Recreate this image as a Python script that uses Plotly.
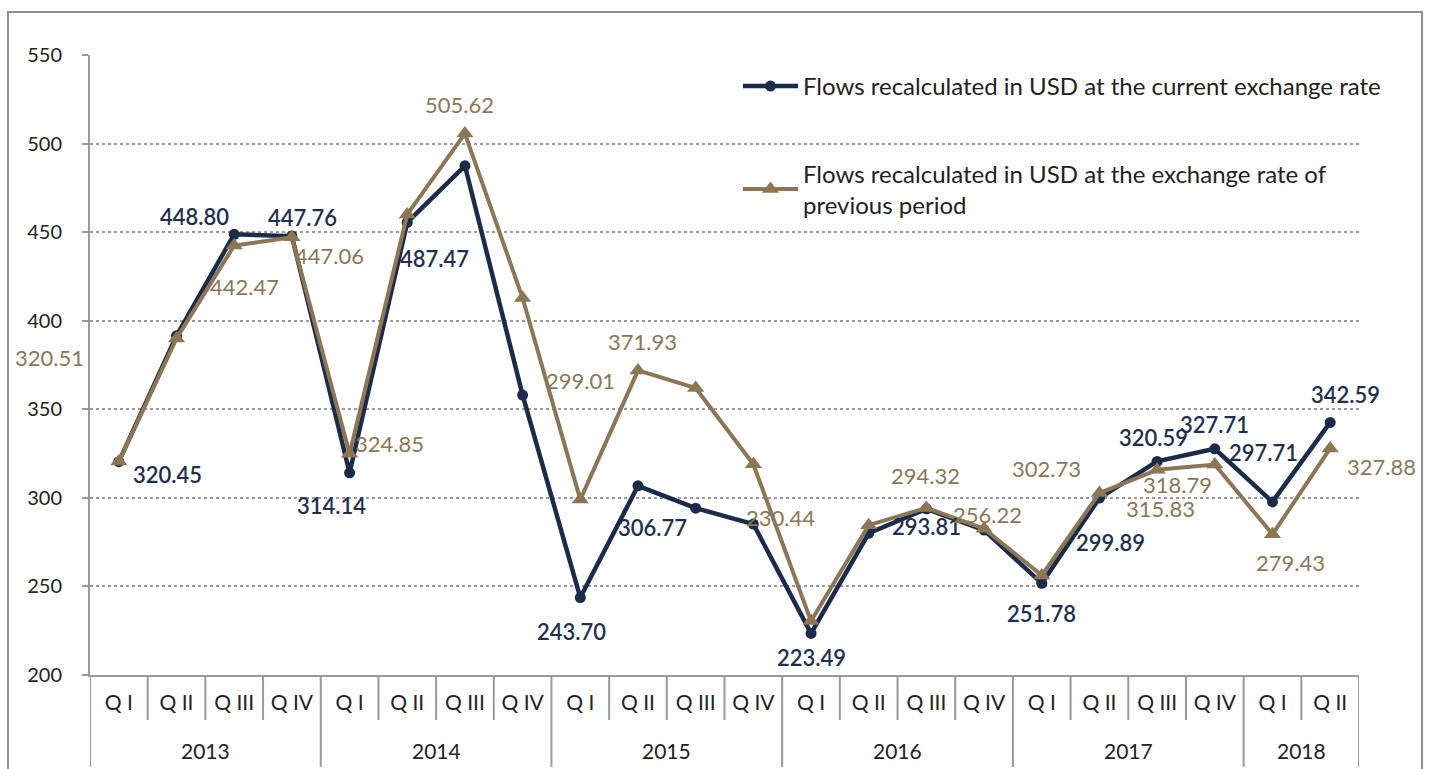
import plotly.graph_objects as go

# ---------------- data ----------------
years = ["2013", "2014", "2015", "2016", "2017", "2018"]
quarters_per_year = [4, 4, 4, 4, 4, 2]
quarter_names = ["Q I", "Q II", "Q III", "Q IV"]

current_rate = [320.45, 391.5, 448.80, 447.76,
                314.14, 455.5, 487.47, 358.0,
                243.70, 306.77, 294.2, 285.2,
                223.49, 280.0, 293.81, 281.8,
                251.78, 299.89, 320.59, 327.71,
                297.71, 342.59]
previous_rate = [320.51, 390.0, 442.47, 447.06,
                 324.85, 460.0, 505.62, 412.8,
                 299.01, 371.93, 362.0, 319.0,
                 230.44, 284.6, 294.32, 282.6,
                 256.22, 302.73, 315.83, 318.79,
                 279.43, 327.88]
# which points carry a value label
current_labeled = [1, 0, 1, 1, 1, 0, 1, 0, 1, 1, 0, 0, 1, 0, 1, 0, 1, 1, 1, 1, 1, 1]
previous_labeled = [1, 0, 1, 1, 1, 0, 1, 0, 1, 1, 0, 0, 1, 0, 1, 0, 1, 1, 1, 1, 1, 1]

series_names = ["Flows recalculated in USD at the current exchange rate",
                "Flows recalculated in USD at the exchange rate of<br>previous period"]

# ---------------- styling / label offsets (pixels: dx right, dy down) ----------------
NAVY = "#1b2c4b"
BROWN = "#8c7655"
NAVY_TXT = "#1f2f4e"
BROWN_TXT = "#8b7757"
GRID = "#9a9a9a"
FONT = "Lato"

cur_off = {0: (49, 13), 2: (-40, -18), 3: (11, -19), 4: (-18, 33), 6: (-30, 93),
           8: (-9, 34), 9: (15, 42), 12: (0, 24), 14: (0, 18), 16: (0, 30),
           17: (11, 44), 18: (-4, -24), 19: (0, -24), 20: (-9, -49), 21: (15, -28)}
prev_off = {0: (-69, -104), 2: (10, 41), 3: (38, 18), 4: (40, -10), 6: (-5, -29),
            8: (0, -119), 9: (5, -29), 12: (-31, -104), 14: (-1, -32), 16: (-54, -61),
            17: (-53, -25), 18: (3, 39), 19: (-37, 20), 20: (18, 28), 21: (51, 18)}

# ---------------- build categories ----------------
x_labels = []
for y, n in zip(years, quarters_per_year):
    for q in range(n):
        x_labels.append(quarter_names[q])
xs = list(range(len(x_labels)))

fig = go.Figure()
fig.add_trace(go.Scatter(
    x=xs, y=current_rate, mode="lines+markers", name=series_names[0],
    line=dict(color=NAVY, width=4.5),
    marker=dict(symbol="circle", size=11, color=NAVY),
    legendgroup="a"))
fig.add_trace(go.Scatter(
    x=xs, y=previous_rate, mode="lines+markers", name=series_names[1],
    line=dict(color=BROWN, width=4),
    marker=dict(symbol="triangle-up", size=15, color=BROWN),
    legendgroup="b"))

annotations = []
for i, (v, lab) in enumerate(zip(current_rate, current_labeled)):
    if lab:
        dx, dy = cur_off.get(i, (0, 20))
        annotations.append(dict(x=xs[i], y=v, text=f"{v:.2f}", showarrow=False,
                                xshift=dx, yshift=-dy,
                                font=dict(family=FONT, size=22, color=NAVY_TXT, weight=600)))
for i, (v, lab) in enumerate(zip(previous_rate, previous_labeled)):
    if lab:
        dx, dy = prev_off.get(i, (0, -20))
        annotations.append(dict(x=xs[i], y=v, text=f"{v:.2f}", showarrow=False,
                                xshift=dx, yshift=-dy,
                                font=dict(family=FONT, size=22, color=BROWN_TXT)))

# year labels & dividers
shapes = []
PLOT_H = 620.0
PLOT_W = 1269.0
def py(pix):
    return (675 - pix) / PLOT_H
def px(pix):
    return (pix - 90) / PLOT_W

start = 0
for y, n in zip(years, quarters_per_year):
    annotations.append(dict(x=start + (n - 1) / 2, y=py(750), xref="x", yref="paper",
                            text=y, showarrow=False, yanchor="middle",
                            font=dict(family=FONT, size=21, color="#222222")))
    shapes.append(dict(type="line", xref="x", yref="paper", x0=start - 0.5, x1=start - 0.5,
                       y0=0, y1=py(767), line=dict(color=GRID, width=2)))
    for q in range(1, n):
        shapes.append(dict(type="line", xref="x", yref="paper",
                           x0=start + q - 0.5, x1=start + q - 0.5,
                           y0=0, y1=py(720), line=dict(color=GRID, width=2)))
    start += n
shapes.append(dict(type="line", xref="x", yref="paper", x0=start - 0.5, x1=start - 0.5,
                   y0=0, y1=py(767), line=dict(color=GRID, width=2)))

# outer frame
shapes.append(dict(type="rect", xref="paper", yref="paper",
                   x0=px(8), x1=px(1422), y0=py(800), y1=py(12),
                   line=dict(color="#8f8f8f", width=2), fillcolor="rgba(0,0,0,0)",
                   layer="below"))

fig.update_layout(
    width=1431, height=769,
    margin=dict(l=90, r=72, t=55, b=94),
    paper_bgcolor="white", plot_bgcolor="white",
    font=dict(family=FONT, size=20, color="#222222"),
    showlegend=True,
    legend=dict(x=px(738), y=py(64), xanchor="left", yanchor="top",
                bgcolor="rgba(0,0,0,0)", font=dict(family=FONT, size=24, color="#222222"),
                itemwidth=55, tracegroupgap=53, traceorder="grouped"),
    annotations=annotations,
    shapes=shapes,
)
fig.update_xaxes(range=[-0.5, len(xs) - 0.5], tickmode="array", tickvals=xs,
                 ticktext=x_labels, ticks="", showgrid=False, zeroline=False,
                 showline=True, linecolor=GRID, linewidth=2, ticklabelstandoff=8,
                 tickfont=dict(family=FONT, size=21, color="#222222"))
fig.update_yaxes(range=[200, 550], tickmode="array", tickvals=[200, 250, 300, 350, 400, 450, 500, 550],
                 ticks="outside", ticklen=6, tickcolor=GRID, tickwidth=2,
                 showline=True, linecolor=GRID, linewidth=2,
                 showgrid=True, gridcolor=GRID, griddash="dot", gridwidth=1.5,
                 zeroline=False, ticklabelstandoff=16,
                 tickfont=dict(family=FONT, size=20, color="#222222"))

fig.write_html("out.html", config={"displayModeBar": False},
               post_script="document.body.style.margin='0';document.body.style.overflow='hidden';")
